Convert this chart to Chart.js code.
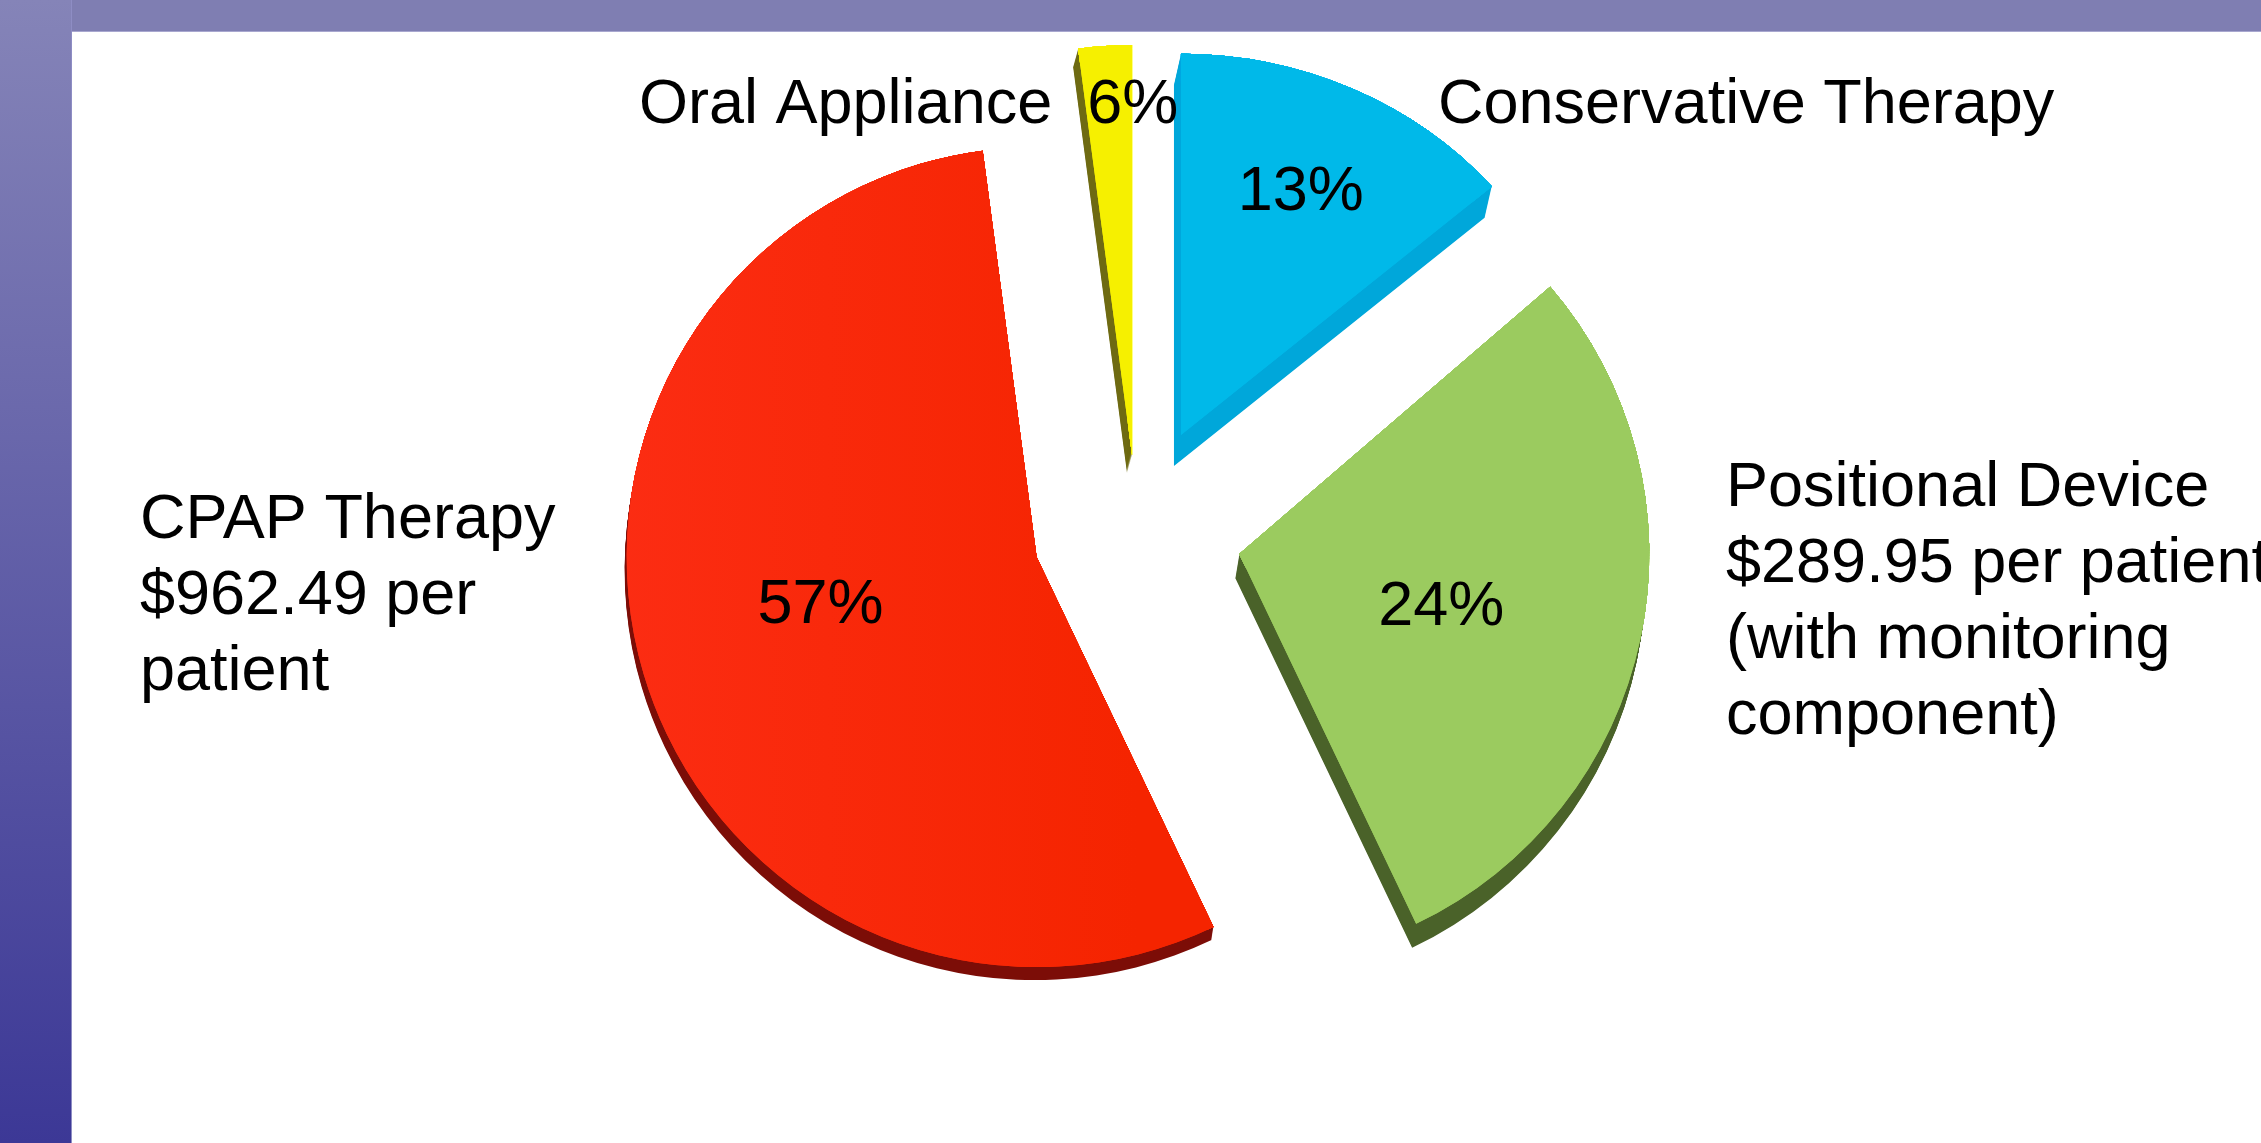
<!DOCTYPE html>
<html>
<head>
<meta charset="utf-8">
<title>Therapy cost share</title>
<script src="https://cdn.jsdelivr.net/npm/chart.js@4.4.1/dist/chart.umd.min.js"></script>
<style>
    html, body { margin: 0; padding: 0; background: #ffffff; overflow: hidden; }
    .band-top { position: absolute; left: 0; top: 0; width: 2261px; height: 31px; background: #7f7eb2; border-bottom: 1px solid #a8a7cf; }
    .band-left { position: absolute; left: 0; top: 0; width: 71px; height: 1143px; background: linear-gradient(#8584b8, #3c3896); border-right: 1px solid #8e8dc4; }
    .chart-box { position: absolute; left: 0; top: 0; width: 2261px; height: 1143px; }
</style>
</head>
<body>
<div class="band-top"></div>
<div class="band-left"></div>
<div class="chart-box"><canvas id="chart"></canvas></div>
<script>
const categories = ['Conservative Therapy', 'Positional Device', 'CPAP Therapy', 'Oral Appliance'];
// slice sizes as they are drawn (percent of the full turn)
const sliceSizes = [13.7, 29.2, 55.0, 2.1];
// percentages printed on the chart
const printedPercents = ['13%', '24%', '57%', '6%'];
const costLines = [
    [],
    ['$289.95 per patient', '(with monitoring', 'component)'],
    ['$962.49 per', 'patient'],
    []
];

const faceColors = ['#00b9e9', '#9bcb5f', '#f92608', '#f6f000'];
const sideColors = ['#00a7da', '#4a6229', '#7c0d07', '#6e6a12'];

const FONT = '63px "Liberation Sans", Arial, sans-serif';
const LINE = 76;
const explode = [105, 106, 103, 75];                      // px, pushed out from the centre
const explodeTurn = [0.7, 1.2, 1.3, 0.75];                 // degrees off each slice's middle
const squash = [0.93, 1, 1, 1];                            // vertical tilt, about the slice tip
const depth = [[-7, 31], [-4, 24], [-2, 13], [-5, 18]];   // side wall, px
const pctPlace = [[0.70, 0], [0.51, 3], [0.54, 4], null]; // share of radius, extra degrees
const outsidePlace = [[302, -407], [590, -24], [-996, 8], [-497, -407]]; // from pie centre

function shiftOf(arc, i) {
    const a = (arc.startAngle + arc.endAngle) / 2 + explodeTurn[i] * Math.PI / 180;
    return [Math.cos(a) * explode[i], Math.sin(a) * explode[i]];
}

function placeSlice(ctx, arc, i) {
    const [sx, sy] = shiftOf(arc, i);
    ctx.translate(arc.x + sx, arc.y + sy);
    ctx.scale(1, squash[i]);
    ctx.translate(-arc.x, -arc.y);
}

// draws each slice pushed out, with a darker wall under it
const explodedPie = {
    id: 'explodedPie',
    beforeDatasetDraw(chart, args) {
        const ctx = chart.ctx;
        const arcs = args.meta.data;
        arcs.forEach((arc, i) => {
            const [dx, dy] = depth[i];
            const n = Math.max(Math.abs(dx), Math.abs(dy));
            ctx.save();
            placeSlice(ctx, arc, i);
            ctx.shadowColor = sideColors[i];
            ctx.shadowBlur = 0;
            for (let s = 1; s <= n; s++) {
                ctx.shadowOffsetX = dx * s / n;
                ctx.shadowOffsetY = dy * s / n;
                arc.draw(ctx);
            }
            ctx.restore();
        });
        arcs.forEach((arc, i) => {
            ctx.save();
            placeSlice(ctx, arc, i);
            arc.draw(ctx);
            ctx.restore();
        });
        return false;
    }
};

const pieTexts = {
    id: 'pieTexts',
    afterDatasetsDraw(chart) {
        const ctx = chart.ctx;
        const arcs = chart.getDatasetMeta(0).data;
        const cx = arcs[0].x, cy = arcs[0].y, r = arcs[0].outerRadius;
        ctx.save();
        ctx.font = FONT;
        ctx.fillStyle = '#000000';

        ctx.textAlign = 'center';
        ctx.textBaseline = 'middle';
        arcs.forEach((arc, i) => {
            if (!pctPlace[i]) return;
            const [sx, sy] = shiftOf(arc, i);
            const a = (arc.startAngle + arc.endAngle) / 2 + pctPlace[i][1] * Math.PI / 180;
            const d = pctPlace[i][0] * r;
            ctx.fillText(printedPercents[i], cx + sx + Math.cos(a) * d, cy + sy + Math.sin(a) * d * squash[i]);
        });

        ctx.textAlign = 'left';
        ctx.textBaseline = 'alphabetic';
        categories.forEach((name, i) => {
            let lines = [name].concat(costLines[i]);
            if (!pctPlace[i]) lines = [name + '  ' + printedPercents[i]];
            const [ox, oy] = outsidePlace[i];
            lines.forEach((t, k) => ctx.fillText(t, cx + ox, cy + oy + k * LINE));
        });
        ctx.restore();
    }
};

function redShade(c) {
    const i = c.dataIndex;
    const area = c.chart.chartArea;
    if (i !== 2 || !area) return faceColors[i];
    const mid = (area.left + area.right) / 2;
    const g = c.chart.ctx.createLinearGradient(mid - 520, 0, mid + 100, 0);
    g.addColorStop(0, '#fd2e16');
    g.addColorStop(1, '#f52400');
    return g;
}

new Chart(document.getElementById('chart'), {
    type: 'pie',
    data: {
        labels: categories,
        datasets: [{
            data: sliceSizes,
            backgroundColor: redShade,
            borderWidth: 0,
            clip: false
        }]
    },
    options: {
        responsive: true,
        maintainAspectRatio: false,
        animation: false,
        events: [],
        radius: 410,
        layout: { padding: { left: 11, right: 0, top: 0, bottom: 83 } },
        plugins: {
            legend: { display: false },
            tooltip: { enabled: false }
        }
    },
    plugins: [explodedPie, pieTexts]
});
</script>
</body>
</html>
